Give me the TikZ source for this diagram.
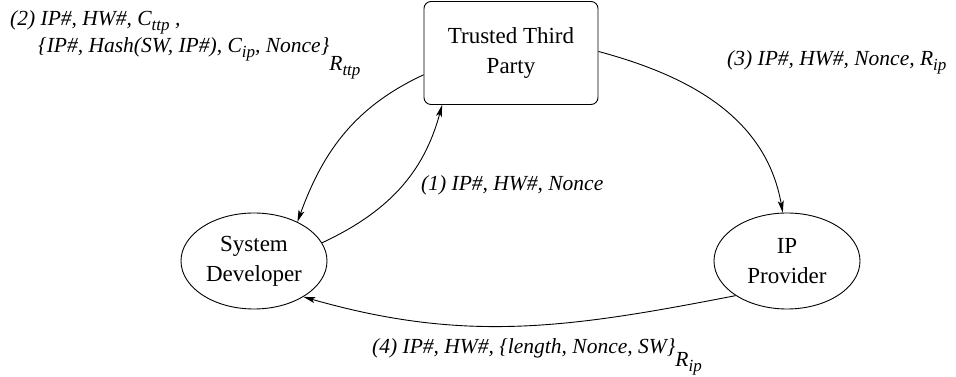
\documentclass[tikz,border=0pt]{standalone}
\usepackage{fontspec}
\setmainfont{Liberation Serif}
\usetikzlibrary{shapes.geometric,arrows.meta}
\newcommand{\sbs}[1]{\raisebox{-5pt}{\fontsize{17}{17}\selectfont #1}}
\newcommand{\lsb}[3][-14pt]{\raisebox{#1}{#2\sbs{#3}}}
\begin{document}
\begin{tikzpicture}[x=1pt,y=1pt,
  party/.style={draw,line width=0.9pt,align=center,font=\fontsize{23}{30}\selectfont,inner sep=0pt},
  boxnode/.style={party,rectangle,rounded corners=7pt,minimum width=174pt,minimum height=103pt},
  ellnode/.style={party,ellipse,minimum width=146pt,minimum height=96pt},
  msg/.style={anchor=base west,inner sep=0pt,font=\fontsize{21.5}{26}\selectfont\itshape},
  flow/.style={line width=0.9pt,-{Stealth[length=12pt,width=6pt,inset=3pt]}}]
\useasboundingbox (0,0) rectangle (956,377);
\node[boxnode] (ttp) at (511,324) {Trusted Third\\Party};
\node[ellnode] (sd) at (254,116) {System\\Developer};
\node[ellnode] (ip) at (787,116) {IP\\Provider};
\node[msg] (l2a) at (10,351) {(2) IP\#, HW\#, C\sbs{ttp} ,};
\node[msg] (l2b) at (38,324) {\{IP\#, Hash(SW, IP\#), C\sbs{ip}, Nonce\}\lsb[-18pt]{R}{ttp}};
\node[msg] (l3) at (727,311) {(3) IP\#, HW\#, Nonce, R\sbs{ip}};
\node[msg] (l1) at (421,186) {(1) IP\#, HW\#, Nonce};
\node[msg] (l4) at (372,23) {(4) IP\#, HW\#, \{length, Nonce, SW\}\lsb[-13pt]{R}{ip}};
\draw[flow] (ttp.194) to[out=205,in=70] (sd.42);
\draw[flow] (sd.15) to[out=25,in=255] (ttp.217);
\draw[flow] (ttp.1) to[out=-15,in=100] (ip.95);
\draw[flow] (ip.214) to[out=191,in=-16] (sd.-36);
\end{tikzpicture}
\end{document}
